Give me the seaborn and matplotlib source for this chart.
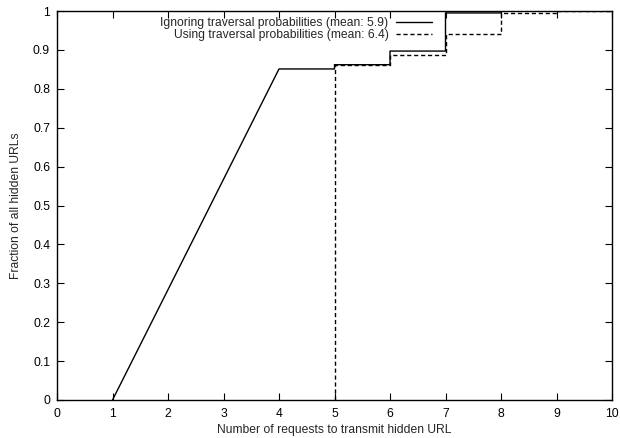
import matplotlib
matplotlib.use("Agg")
import matplotlib.pyplot as plt
import seaborn as sns
import pandas as pd

# Data (vertices of the CDF curves)
ign_x = [1, 4, 5, 5, 6, 6, 7, 7, 8, 8, 10]
ign_y = [0, 0.851, 0.851, 0.862, 0.862, 0.897, 0.897, 0.995, 0.995, 1.0, 1.0]
use_x = [5, 5, 6, 6, 7, 7, 8, 8, 9, 9, 10]
use_y = [0, 0.862, 0.862, 0.888, 0.888, 0.942, 0.942, 0.994, 0.994, 1.0, 1.0]
labels = ["Ignoring traversal probabilities (mean: 5.9)",
          "Using traversal probabilities (mean: 6.4)"]
x_ticks = list(range(0, 11))
y_ticks = [0, 0.1, 0.2, 0.3, 0.4, 0.5, 0.6, 0.7, 0.8, 0.9, 1]
y_ticklabels = ["0", "0.1", "0.2", "0.3", "0.4", "0.5", "0.6", "0.7", "0.8", "0.9", "1"]

sns.set_style("ticks")
plt.rcParams["font.family"] = ["Liberation Sans", "DejaVu Sans"]
FS = 8.7

df = pd.concat([
    pd.DataFrame({"x": ign_x, "y": ign_y, "series": labels[0]}),
    pd.DataFrame({"x": use_x, "y": use_y, "series": labels[1]}),
])

fig = plt.figure(figsize=(6.2, 4.38), dpi=100)
ax = fig.add_axes([57/620, 38/438, 555/620, 389/438])

sns.lineplot(data=df, x="x", y="y", hue="series", style="series",
             palette=["black", "black"], dashes=[(None, None), (3, 2)],
             sort=False, estimator=None, linewidth=1.0, ax=ax)

ax.set_xlim(0, 10)
ax.set_ylim(0, 1)
ax.set_xticks(x_ticks)
ax.set_yticks(y_ticks)
ax.set_yticklabels(y_ticklabels)
ax.tick_params(direction="in", length=5, width=0.8, top=True, right=True,
               labelsize=FS, colors="black", pad=5)
ax.tick_params(axis="x", pad=6)
for s in ax.spines.values():
    s.set_linewidth(1.0)
    s.set_color("black")
ax.set_xlabel("Number of requests to transmit hidden URL", fontsize=FS, labelpad=3)
ax.set_ylabel("Fraction of all hidden URLs", fontsize=FS, labelpad=8)

leg = ax.legend(loc="upper right", bbox_to_anchor=(432/620, 1 - 17/438),
                bbox_transform=fig.transFigure, frameon=False, markerfirst=False,
                fontsize=FS, handlelength=3.0, handletextpad=0.6,
                labelspacing=0.0, borderpad=0, borderaxespad=0)
for h in leg.get_lines():
    h.set_linewidth(1.0)

fig.savefig("out.png", dpi=100)
